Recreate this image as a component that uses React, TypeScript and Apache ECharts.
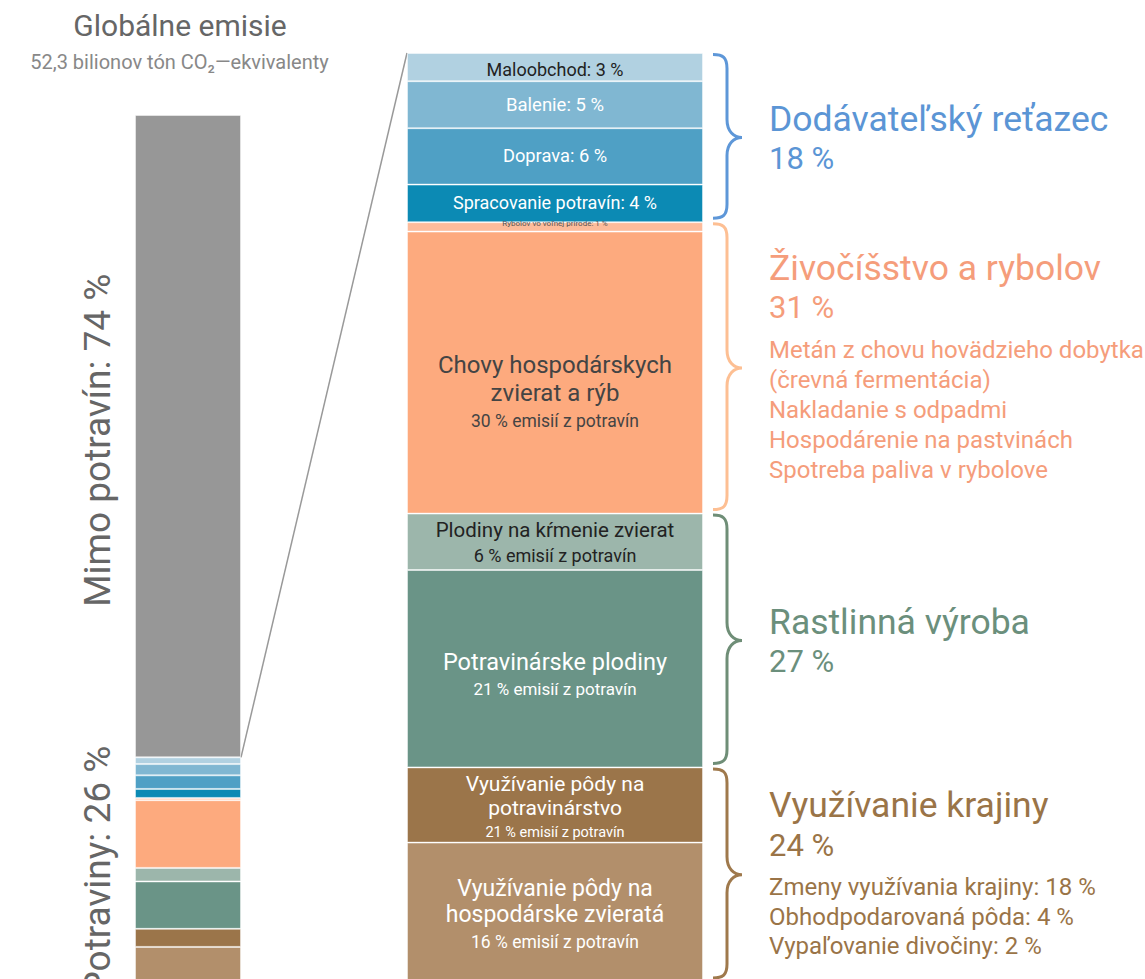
import React, { useEffect, useRef } from 'react';
import * as echarts from 'echarts';

const FONT = 'Roboto, "Noto Sans", sans-serif';

// ---------- texts ----------
const globalTitle = 'Globálne emisie';
const globalSubtitle = '52,3 bilionov tón CO₂—ekvivalenty';
const nonFoodLabel = 'Mimo potravín: 74 %';
const foodLabel = 'Potraviny: 26 %';

// ---------- data ----------
const nonFoodShare = 74;
const foodShareOfGlobal = 26;

const foodCategories = [
  'Maloobchod',
  'Balenie',
  'Doprava',
  'Spracovanie potravín',
  'Rybolov vo voľnej prírode',
  'Chovy hospodárskych zvierat a rýb',
  'Plodiny na kŕmenie zvierat',
  'Potravinárske plodiny',
  'Využívanie pôdy na potravinárstvo',
  'Využívanie pôdy na hospodárske zvieratá',
];
const foodShares = [3, 5, 6, 4, 1, 30, 6, 21, 8, 16];

const foodSegmentTitles = [
  'Maloobchod: 3 %',
  'Balenie: 5 %',
  'Doprava: 6 %',
  'Spracovanie potravín: 4 %',
  'Rybolov vo voľnej prírode: 1 %',
  'Chovy hospodárskych\nzvierat a rýb',
  'Plodiny na kŕmenie zvierat',
  'Potravinárske plodiny',
  'Využívanie pôdy na\npotravinárstvo',
  'Využívanie pôdy na\nhospodárske zvieratá',
];
const foodSegmentNotes = [
  '', '', '', '', '',
  '30 % emisií z potravín',
  '6 % emisií z potravín',
  '21 % emisií z potravín',
  '21 % emisií z potravín',
  '16 % emisií z potravín',
];

const groupNames = ['Dodávateľský reťazec', 'Živočíšstvo a rybolov', 'Rastlinná výroba', 'Využívanie krajiny'];
const groupShares = [18, 31, 27, 24];
const groupSegmentCounts = [4, 2, 2, 2];
const groupDetails = [
  [],
  ['Metán z chovu hovädzieho dobytka', '(črevná fermentácia)', 'Nakladanie s odpadmi', 'Hospodárenie na pastvinách', 'Spotreba paliva v rybolove'],
  [],
  ['Zmeny využívania krajiny: 18 %', 'Obhodpodarovaná pôda: 4 %', 'Vypaľovanie divočiny: 2 %'],
];

// ---------- styles ----------
const nonFoodColor = '#979797';
const foodColors = ['#b1d1e1', '#80b7d2', '#4fa0c5', '#0c8ab4', '#fdbc9b', '#fdaa7e', '#9cb6ab', '#6a9487', '#9b754a', '#b28f6b'];
const segLabelStyles = [
  { color: '#222', size: 18, lh: 22, subSize: 14, subLh: 20, dy: 2 },
  { color: '#fff', size: 18.5, lh: 22, subSize: 14, subLh: 20, dy: 0 },
  { color: '#fff', size: 18.3, lh: 22, subSize: 14, subLh: 20, dy: -1 },
  { color: '#fff', size: 18, lh: 22, subSize: 14, subLh: 20, dy: -1 },
  { color: '#555', size: 8, lh: 9, subSize: 7, subLh: 9, dy: -3 },
  { color: '#444', size: 24, lh: 28, subSize: 17.5, subLh: 27, dy: 20 },
  { color: '#222', size: 20.5, lh: 26, subSize: 18, subLh: 26, dy: 1 },
  { color: '#fff', size: 23.5, lh: 28, subSize: 17, subLh: 26, dy: 6 },
  { color: '#fff', size: 21, lh: 24.5, subSize: 14.5, subLh: 24, dy: 3 },
  { color: '#fff', size: 23, lh: 26.5, subSize: 17.5, subLh: 29, dy: -2 },
];
const groupTextColors = ['#5b95d5', '#f59d7b', '#6b8f7c', '#9a7447'];
const groupBraceColors = ['#5e97d8', '#fdbf93', '#6f8e77', '#9f794c'];
const groupDetailSizes = [24, 24, 24, 24];
const groupDetailSteps = [30, 30, 30, 29.5];

const PAGE_H = 979;
const L = { left: 135, top: 115, width: 106, height: 868 };
const R = { left: 407, top: 53, width: 296, height: 940 };

const segBorder = { borderColor: 'rgba(255,255,255,0.45)', borderWidth: 1 };

function segLabelFormatter(i: number) {
  const parts = foodSegmentTitles[i].split('\n').map((t) => `{m|${t}}`);
  if (foodSegmentNotes[i]) parts.push(`{s|${foodSegmentNotes[i]}}`);
  return parts.join('\n');
}

function bracePath(x0: number, y1: number, y2: number, ym: number) {
  const xv = x0 + 14;
  const xp = x0 + 29;
  return `M${x0} ${y1} C${x0 + 10} ${y1} ${xv} ${y1 + 3} ${xv} ${y1 + 14} L${xv} ${ym - 18} C${xv} ${ym - 6} ${xp - 8} ${ym} ${xp} ${ym} C${xp - 8} ${ym} ${xv} ${ym + 6} ${xv} ${ym + 18} L${xv} ${y2 - 14} C${xv} ${y2 - 3} ${x0 + 10} ${y2} ${x0} ${y2}`;
}

export default function App() {
  const ref = useRef<HTMLDivElement>(null);

  useEffect(() => {
    if (!ref.current) return;
    const chart = echarts.init(ref.current, undefined, { renderer: 'svg' });

    const leftSeries: any[] = [
      {
        name: 'Mimo potravín',
        type: 'bar',
        stack: 'global',
        xAxisIndex: 0,
        yAxisIndex: 0,
        barWidth: '100%',
        data: [nonFoodShare],
        itemStyle: { color: nonFoodColor, ...segBorder },
      },
      ...foodCategories.map((name, i) => ({
        name: 'Globálne – ' + name,
        type: 'bar',
        stack: 'global',
        xAxisIndex: 0,
        yAxisIndex: 0,
        barWidth: '100%',
        data: [(foodShares[i] * foodShareOfGlobal) / 100],
        itemStyle: { color: foodColors[i], ...segBorder },
      })),
    ];

    const rightSeries: any[] = foodCategories.map((name, i) => {
      const st = segLabelStyles[i];
      return {
        name,
        type: 'bar',
        stack: 'food',
        xAxisIndex: 1,
        yAxisIndex: 1,
        barWidth: '100%',
        data: [foodShares[i]],
        itemStyle: { color: foodColors[i], ...segBorder },
        label: {
          show: true,
          position: 'inside',
          offset: [0, st.dy],
          formatter: segLabelFormatter(i),
          rich: {
            m: { fontFamily: FONT, fontSize: st.size, lineHeight: st.lh, color: st.color, align: 'center' },
            s: { fontFamily: FONT, fontSize: st.subSize, lineHeight: st.subLh, color: st.color, align: 'center' },
          },
        },
      };
    });

    chart.setOption({
      animation: false,
      backgroundColor: '#ffffff',
      grid: [
        { left: L.left, top: L.top, width: L.width, height: L.height, outerBoundsMode: 'none', containLabel: false },
        { left: R.left, top: R.top, width: R.width, height: R.height, outerBoundsMode: 'none', containLabel: false },
      ],
      xAxis: [
        { type: 'category', gridIndex: 0, data: ['Globálne emisie'], show: false },
        { type: 'category', gridIndex: 1, data: ['Potraviny'], show: false },
      ],
      yAxis: [
        { type: 'value', gridIndex: 0, min: 0, max: 100, inverse: true, show: false },
        { type: 'value', gridIndex: 1, min: 0, max: 100, inverse: true, show: false },
      ],
      series: [...leftSeries, ...rightSeries],
    });

    const yL = (v: number) => (chart.convertToPixel({ xAxisIndex: 0, yAxisIndex: 0 } as any, [0, v]) as number[])[1];
    const yR = (v: number) => (chart.convertToPixel({ xAxisIndex: 1, yAxisIndex: 1 } as any, [0, v]) as number[])[1];

    const leftCx = L.left + L.width / 2;
    const graphic: any[] = [
      {
        type: 'text',
        x: leftCx - 8,
        y: 25,
        style: { text: globalTitle, fill: '#666', fontSize: 30, fontFamily: FONT, align: 'center', verticalAlign: 'middle' },
      },
      {
        type: 'text',
        x: leftCx - 8.5,
        y: 62,
        style: { text: globalSubtitle, fill: '#888', fontSize: 20, fontFamily: FONT, align: 'center', verticalAlign: 'middle' },
      },
      {
        type: 'text',
        x: 97,
        y: (yL(0) + yL(nonFoodShare)) / 2 + 4,
        rotation: Math.PI / 2,
        style: { text: nonFoodLabel, fill: '#666', fontSize: 37, fontFamily: FONT, align: 'center', verticalAlign: 'middle' },
      },
      {
        type: 'text',
        x: 97,
        y: (yL(nonFoodShare) + yL(100)) / 2,
        rotation: Math.PI / 2,
        style: { text: foodLabel, fill: '#666', fontSize: 37, fontFamily: FONT, align: 'center', verticalAlign: 'middle' },
      },
      {
        type: 'line',
        shape: { x1: L.left + L.width, y1: yL(nonFoodShare), x2: R.left, y2: yR(0) },
        style: { stroke: '#999', lineWidth: 1.5 },
      },
    ];

    const braceX = R.left + R.width + 10;
    const textX = braceX + 56;
    let cum = 0;
    let segIdx = 0;
    groupNames.forEach((g, gi) => {
      let sum = 0;
      for (let k = 0; k < groupSegmentCounts[gi]; k++) sum += foodShares[segIdx + k];
      segIdx += groupSegmentCounts[gi];
      const yStart = yR(cum);
      const yEnd = Math.min(yR(cum + sum), PAGE_H + 3);
      cum += sum;
      const y1 = Math.max(yStart + 1.5, R.top + 1.5);
      const y2 = yEnd - 4;
      const ym = (yStart + yEnd) / 2;
      const shapeName = 'brace' + gi;
      echarts.graphic.registerShape(shapeName, echarts.graphic.extendPath(bracePath(braceX, y1, y2, ym), {}) as any);
      graphic.push({
        type: shapeName,
        x: 0,
        y: 0,
        style: { stroke: groupBraceColors[gi], lineWidth: 3, fill: 'none' },
      });

      const details = groupDetails[gi];
      const step = groupDetailSteps[gi];
      const extent = details.length ? 82 + (details.length - 1) * step : 40;
      const titleY = ym - extent / 2 + 1;
      graphic.push({
        type: 'text',
        x: textX,
        y: titleY,
        style: { text: g, fill: groupTextColors[gi], fontSize: 35.5, fontFamily: FONT, align: 'left', verticalAlign: 'middle' },
      });
      graphic.push({
        type: 'text',
        x: textX,
        y: titleY + 40,
        style: { text: `${groupShares[gi]} %`, fill: groupTextColors[gi], fontSize: 31, fontFamily: FONT, align: 'left', verticalAlign: 'middle' },
      });
      details.forEach((d, di) => {
        graphic.push({
          type: 'text',
          x: textX,
          y: titleY + 82 + di * step,
          style: { text: d, fill: groupTextColors[gi], fontSize: groupDetailSizes[gi], fontFamily: FONT, align: 'left', verticalAlign: 'middle' },
        });
      });
    });

    chart.setOption({ graphic });

    return () => chart.dispose();
  }, []);

  return <div ref={ref} style={{ position: 'absolute', left: 0, top: 0, width: 1145, height: 979 }} />;
}
